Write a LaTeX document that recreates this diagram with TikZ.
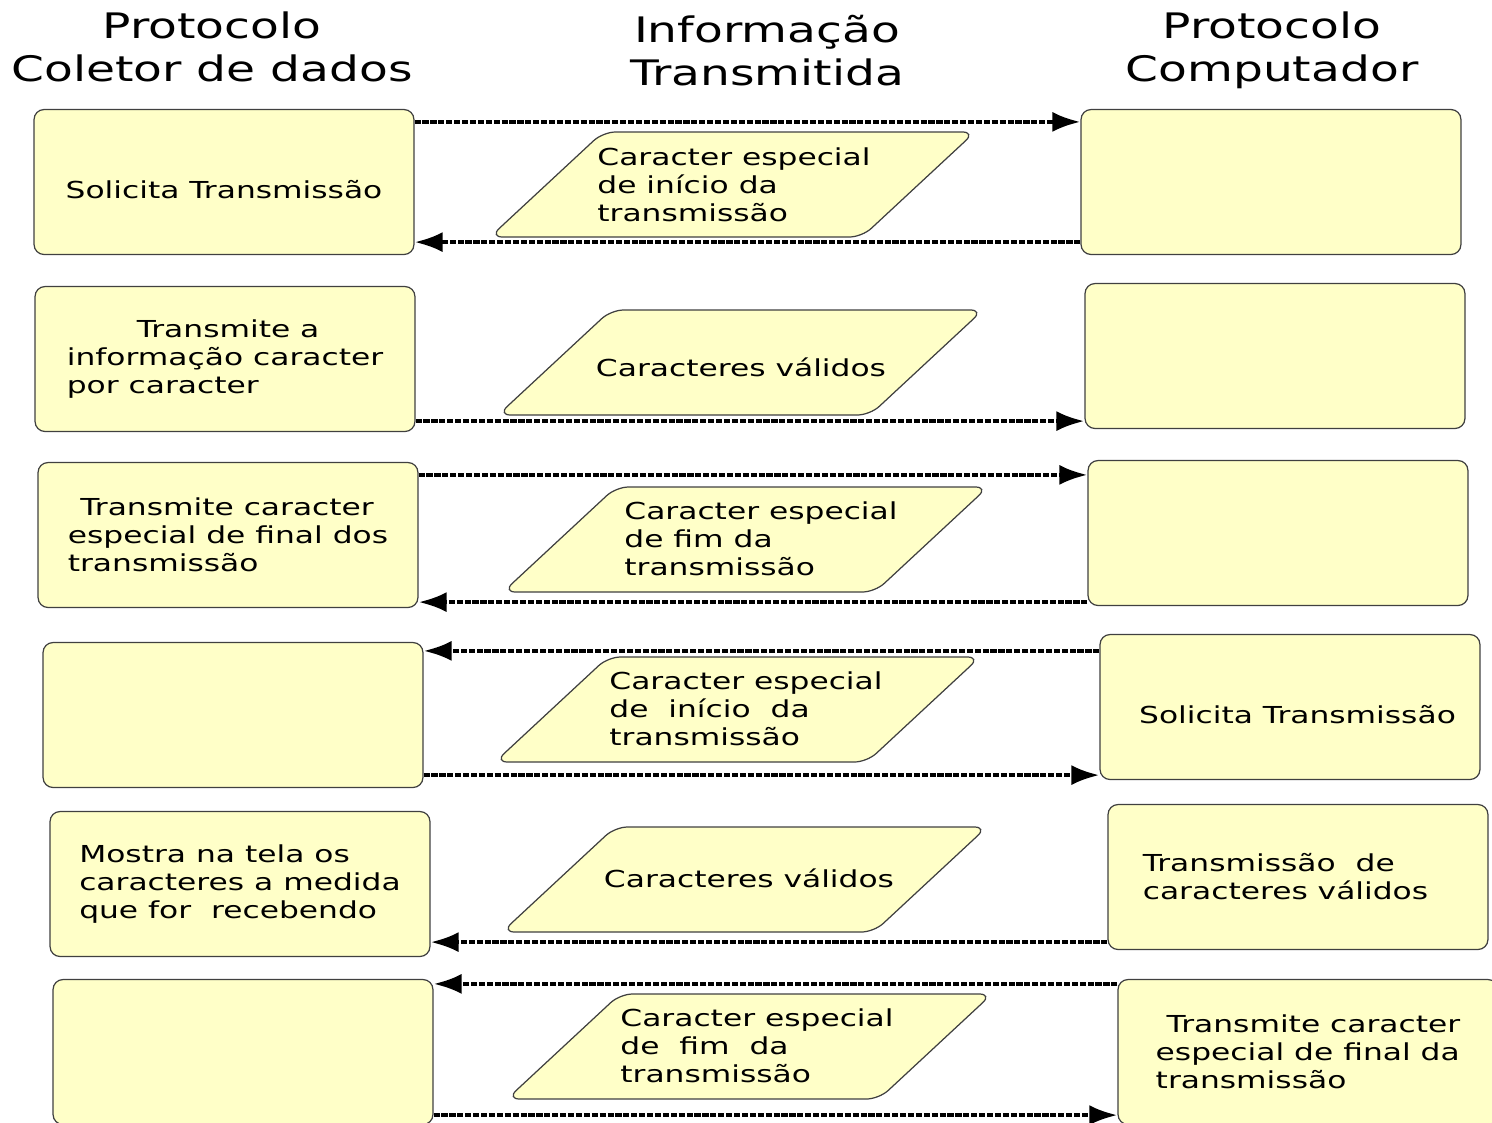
\documentclass[tikz,border=0pt]{standalone}
\usepackage{fontspec}
\setmainfont{DejaVu Sans}[FakeStretch=1.34]
\usetikzlibrary{arrows.meta}
\definecolor{amarelo}{RGB}{255,255,200}
\tikzset{
  caixa/.style={draw=black!75, fill=amarelo, line width=0.7pt, rounded corners=0.2cm,
    minimum width=7.6cm, minimum height=2.9cm, align=left},
  info/.style={draw=black!75, fill=amarelo, line width=0.7pt, rounded corners=0.25cm},
  texto/.style={align=left, inner sep=0pt},
  seta/.style={line width=2.2pt, dash pattern=on 3.5pt off 1pt, -{Latex[length=0.56cm,width=0.4cm]}},
  titulo/.style={align=center, font=\fontsize{20}{24.5}\selectfont},
}
\begin{document}
\begin{tikzpicture}[x=0.02cm,y=-0.02cm,font=\fontsize{13.3}{16}\selectfont]
\useasboundingbox (0,0) rectangle (1492,1123);

% titulos
\node[titulo] (tcol) at (212,47) {Protocolo\\Coletor de dados};
\node[titulo] (tinf) at (767,51) {Informação\\Transmitida};
\node[titulo] (tcom) at (1272,50) {Protocolo\\Computador};

% coletor de dados
\node[caixa] (L1) at (224,182) {\raisebox{-0.33cm}[0pt][0pt]{Solicita Transmissão}};
\node[caixa] (L2) at (225,359) {\hspace*{1.4cm}Transmite a\\informação caracter\\por caracter};
\node[caixa] (L3) at (228,535) {\hspace*{0.25cm}Transmite caracter\\especial de final dos\\transmissão};
\node[caixa] (L4) at (233,715) {};
\node[caixa] (L5) at (240,884) {Mostra na tela os\\caracteres a medida\\que for\ \ recebendo};
\node[caixa] (L6) at (243,1052) {};

% computador
\node[caixa] (R1) at (1271,182) {};
\node[caixa] (R2) at (1275,356) {};
\node[caixa] (R3) at (1278,533) {};
\node[caixa] (R4) at (1290,707) {\hspace*{0.3cm}\raisebox{-0.33cm}[0pt][0pt]{Solicita Transmissão}};
\node[caixa] (R5) at (1298,877) {Transmissão\ \ de\\caracteres válidos\hspace*{0.5cm}};
\node[caixa] (R6) at (1308,1052) {\hspace*{0.22cm}Transmite caracter\\especial de final da\\transmissão};

% informacao transmitida
\draw[info] (732,185) ++(-242,52) -- ++(113,-105) -- ++(372,0) -- ++(-113,105) -- cycle;
\node[texto] (i1) at (734,185) {Caracter especial\\de início da\\transmissão};

\draw[info] (740,363) ++(-242,52) -- ++(113,-105) -- ++(372,0) -- ++(-113,105) -- cycle;
\node[texto] (i2) at (741,367) {Caracteres válidos};

\draw[info] (745,540) ++(-242,52) -- ++(113,-105) -- ++(372,0) -- ++(-113,105) -- cycle;
\node[texto] (i3) at (761,539) {Caracter especial\\de fim da\\transmissão};

\draw[info] (737,710) ++(-242,52) -- ++(113,-105) -- ++(372,0) -- ++(-113,105) -- cycle;
\node[texto] (i4) at (746,709) {Caracter especial\\de\ \ início\ \ da\\transmissão};

\draw[info] (744,880) ++(-242,52) -- ++(113,-105) -- ++(372,0) -- ++(-113,105) -- cycle;
\node[texto] (i5) at (749,878) {Caracteres válidos};

\draw[info] (749,1047) ++(-242,52) -- ++(113,-105) -- ++(372,0) -- ++(-113,105) -- cycle;
\node[texto] (i6) at (757,1046) {Caracter especial\\de\ \ fim\ \ da\\transmissão};

% setas
\draw[seta] ([yshift=-0.26cm]L1.north east) -- ([yshift=-0.26cm]L1.north east -| R1.west);
\draw[seta] ([yshift=0.26cm]L1.south east -| R1.west) -- ([yshift=0.26cm]L1.south east);
\draw[seta] ([yshift=0.22cm]L2.south east) -- ([yshift=0.22cm]L2.south east -| R2.west);
\draw[seta] ([yshift=-0.26cm]L3.north east) -- ([yshift=-0.26cm]L3.north east -| R3.west);
\draw[seta] ([yshift=0.12cm]L3.south east -| R3.west) -- ([yshift=0.12cm]L3.south east);
\draw[seta] ([yshift=-0.18cm]L4.north east -| R4.west) -- ([yshift=-0.18cm]L4.north east);
\draw[seta] ([yshift=0.26cm]L4.south east) -- ([yshift=0.26cm]L4.south east -| R4.west);
\draw[seta] ([yshift=0.3cm]L5.south east -| R5.west) -- ([yshift=0.3cm]L5.south east);
\draw[seta] ([yshift=-0.1cm]L6.north east -| R6.west) -- ([yshift=-0.1cm]L6.north east);
\draw[seta] ([yshift=0.2cm]L6.south east) -- ([yshift=0.2cm]L6.south east -| R6.west);

\end{tikzpicture}
\end{document}
